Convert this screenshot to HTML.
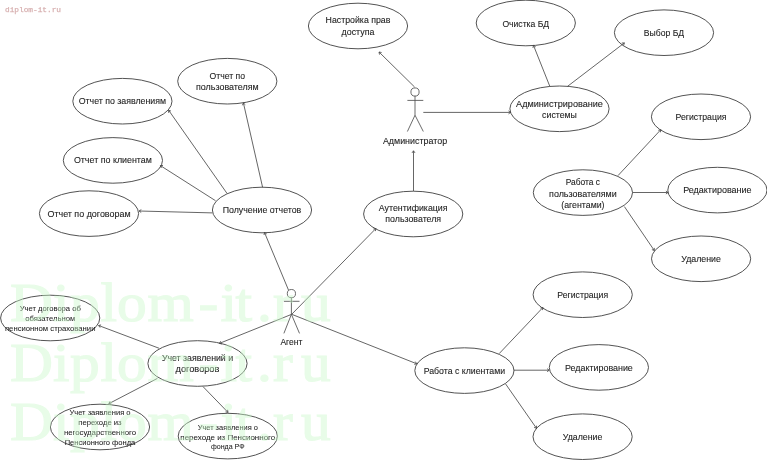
<!DOCTYPE html>
<html><head><meta charset="utf-8"><style>
html,body{margin:0;padding:0;background:#fff;width:767px;height:460px;overflow:hidden}
svg{display:block;will-change:transform}
.t{font-family:"Liberation Sans",sans-serif;fill:#222;stroke:#222;stroke-width:0.1px}
.s{stroke-width:0.06px}
.w{font-family:"Liberation Serif",serif;fill:#c9f8c9;stroke:#c9f8c9;stroke-width:1.2px;opacity:0.42}
.m{font-family:"Liberation Mono",monospace;fill:#d2a8a8;stroke:#dcb8b8;stroke-width:0.25px}
</style></head><body>
<svg width="767" height="460" viewBox="0 0 767 460">

<text class="m" x="5" y="11.7" font-size="7.8" textLength="56">diplom-it.ru</text>
<g stroke="#4a4a4a" stroke-width="0.85" fill="none">
<line x1="414.6" y1="87" x2="379" y2="52"/>
<polyline points="381.6,52.5 379,52 379.5,54.6"/>
<line x1="423.3" y1="112.4" x2="510.6" y2="112.4"/>
<polyline points="508.5,113.9 510.6,112.4 508.5,110.9"/>
<line x1="549.8" y1="86.3" x2="533.5" y2="45.4"/>
<polyline points="535.7,46.8 533.5,45.4 532.9,47.9"/>
<line x1="567.6" y1="86.3" x2="624.4" y2="42.9"/>
<polyline points="623.6,45.4 624.4,42.9 621.8,43.0"/>
<line x1="413.5" y1="191" x2="413.5" y2="150.8"/>
<polyline points="415.0,152.9 413.5,150.8 412.0,152.9"/>
<line x1="291.7" y1="314.3" x2="375.9" y2="228.5"/>
<polyline points="375.4,231.1 375.9,228.5 373.3,229.0"/>
<line x1="288.6" y1="290.3" x2="264.5" y2="232.5"/>
<polyline points="266.7,233.9 264.5,232.5 264.0,235.0"/>
<line x1="262.6" y1="187.3" x2="243.4" y2="102.9"/>
<polyline points="245.3,104.7 243.4,102.9 242.4,105.3"/>
<line x1="227" y1="193.4" x2="168.6" y2="110.2"/>
<polyline points="171.0,111.1 168.6,110.2 168.6,112.8"/>
<line x1="215.5" y1="200.7" x2="160.4" y2="165.6"/>
<polyline points="163.0,165.5 160.4,165.6 161.4,168.0"/>
<line x1="212.4" y1="212.9" x2="139.1" y2="211"/>
<polyline points="141.3,209.6 139.1,211 141.2,212.5"/>
<line x1="291.7" y1="314.3" x2="219.4" y2="343.4"/>
<polyline points="220.8,341.2 219.4,343.4 221.9,344.0"/>
<line x1="291.7" y1="314.3" x2="416.8" y2="363.8"/>
<polyline points="414.3,364.4 416.8,363.8 415.3,361.6"/>
<line x1="159.2" y1="348.3" x2="98.6" y2="325.5"/>
<polyline points="101.1,324.9 98.6,325.5 100.1,327.6"/>
<line x1="157.4" y1="378.4" x2="108.8" y2="403.7"/>
<polyline points="110.0,401.4 108.8,403.7 111.4,404.0"/>
<line x1="203" y1="386.6" x2="228" y2="412.4"/>
<polyline points="225.5,411.9 228,412.4 227.6,409.8"/>
<line x1="618" y1="175.6" x2="660.8" y2="129.7"/>
<polyline points="660.4,132.3 660.8,129.7 658.3,130.3"/>
<line x1="632.6" y1="192.5" x2="668" y2="192.5"/>
<polyline points="665.9,194.0 668,192.5 665.9,191.0"/>
<line x1="624.4" y1="206.6" x2="654.3" y2="250.5"/>
<polyline points="651.9,249.6 654.3,250.5 654.3,247.9"/>
<line x1="499.1" y1="353.7" x2="542.9" y2="307.5"/>
<polyline points="542.5,310.1 542.9,307.5 540.4,308.0"/>
<line x1="513.7" y1="370.2" x2="549.2" y2="370.2"/>
<polyline points="547.1,371.7 549.2,370.2 547.1,368.7"/>
<line x1="505.5" y1="383.8" x2="536.5" y2="428.3"/>
<polyline points="534.1,427.4 536.5,428.3 536.5,425.7"/>
</g>
<g stroke="#404040" stroke-width="0.9" fill="none">
<ellipse cx="358" cy="26" rx="49.6" ry="22.8"/>
<ellipse cx="525.8" cy="23" rx="49.6" ry="22.8"/>
<ellipse cx="664" cy="32.7" rx="49.6" ry="22.8"/>
<ellipse cx="559.5" cy="108.8" rx="49.6" ry="22.8"/>
<ellipse cx="227.3" cy="81.2" rx="49.6" ry="22.8"/>
<ellipse cx="122.4" cy="101.2" rx="49.6" ry="22.8"/>
<ellipse cx="112.9" cy="160.4" rx="49.6" ry="22.8"/>
<ellipse cx="89" cy="213.6" rx="49.6" ry="22.8"/>
<ellipse cx="262" cy="210" rx="49.6" ry="22.8"/>
<ellipse cx="413.2" cy="214" rx="49.6" ry="22.8"/>
<ellipse cx="197.5" cy="363.5" rx="49.6" ry="22.8"/>
<ellipse cx="50.2" cy="318" rx="49.6" ry="22.8"/>
<ellipse cx="100" cy="427" rx="49.6" ry="22.8"/>
<ellipse cx="227.8" cy="436.1" rx="49.6" ry="22.8"/>
<ellipse cx="701" cy="116.8" rx="49.6" ry="22.8"/>
<ellipse cx="582.9" cy="192.6" rx="49.6" ry="22.8"/>
<ellipse cx="717.4" cy="190.1" rx="49.6" ry="22.8"/>
<ellipse cx="701.1" cy="258.8" rx="49.6" ry="22.8"/>
<ellipse cx="582.7" cy="294.7" rx="49.6" ry="22.8"/>
<ellipse cx="464.4" cy="370.6" rx="49.6" ry="22.8"/>
<ellipse cx="598.9" cy="367.4" rx="49.6" ry="22.8"/>
<ellipse cx="582.6" cy="436.7" rx="49.6" ry="22.8"/>
</g>
<g stroke="#505050" stroke-width="0.85" fill="none">
<circle cx="415" cy="92" r="4.1"/>
<line x1="407.4" y1="100.4" x2="423.3" y2="100.4"/>
<line x1="415" y1="95.9" x2="415" y2="115.2"/>
<polyline points="407.4,131.5 415,115.2 423.3,131.5"/>
</g>
<text class="t" x="415" y="143.5" font-size="9.5" text-anchor="middle" textLength="64.2" lengthAdjust="spacingAndGlyphs">Администратор</text>
<g stroke="#505050" stroke-width="0.85" fill="none">
<circle cx="291.4" cy="293.6" r="4.1"/>
<line x1="283.9" y1="301.3" x2="299.5" y2="301.3"/>
<line x1="291.4" y1="297.5" x2="291.4" y2="314.3"/>
<polyline points="283.9,333.4 291.4,314.3 299.5,333.4"/>
</g>
<text class="t" x="291.4" y="344.9" font-size="9.5" text-anchor="middle" textLength="21.9" lengthAdjust="spacingAndGlyphs">Агент</text>
<text class="t" x="358" y="23.4" font-size="9.5" text-anchor="middle" textLength="64.8" lengthAdjust="spacingAndGlyphs">Настройка прав</text>
<text class="t" x="358" y="35.3" font-size="9.5" text-anchor="middle" textLength="32.9" lengthAdjust="spacingAndGlyphs">доступа</text>
<text class="t" x="525.8" y="26.5" font-size="9.5" text-anchor="middle" textLength="46.8" lengthAdjust="spacingAndGlyphs">Очистка БД</text>
<text class="t" x="664" y="36.2" font-size="9.5" text-anchor="middle" textLength="40.3" lengthAdjust="spacingAndGlyphs">Выбор БД</text>
<text class="t" x="559.5" y="106.8" font-size="9.5" text-anchor="middle" textLength="86.9" lengthAdjust="spacingAndGlyphs">Администрирование</text>
<text class="t" x="559.5" y="118.1" font-size="9.5" text-anchor="middle" textLength="34.8" lengthAdjust="spacingAndGlyphs">системы</text>
<text class="t" x="227.3" y="78.7" font-size="9.5" text-anchor="middle" textLength="35.6" lengthAdjust="spacingAndGlyphs">Отчет по</text>
<text class="t" x="227.3" y="90.1" font-size="9.5" text-anchor="middle" textLength="62.6" lengthAdjust="spacingAndGlyphs">пользователям</text>
<text class="t" x="122.4" y="104.3" font-size="9.5" text-anchor="middle" textLength="87.4" lengthAdjust="spacingAndGlyphs">Отчет по заявлениям</text>
<text class="t" x="112.9" y="163.4" font-size="9.5" text-anchor="middle" textLength="78" lengthAdjust="spacingAndGlyphs">Отчет по клиентам</text>
<text class="t" x="89" y="216.8" font-size="9.5" text-anchor="middle" textLength="83.1" lengthAdjust="spacingAndGlyphs">Отчет по договорам</text>
<text class="t" x="262" y="213.0" font-size="9.5" text-anchor="middle" textLength="78.6" lengthAdjust="spacingAndGlyphs">Получение отчетов</text>
<text class="t" x="413.2" y="211.3" font-size="9.5" text-anchor="middle" textLength="68.7" lengthAdjust="spacingAndGlyphs">Аутентификация</text>
<text class="t" x="413.2" y="222.1" font-size="9.5" text-anchor="middle" textLength="55.8" lengthAdjust="spacingAndGlyphs">пользователя</text>
<text class="t" x="197.5" y="361.4" font-size="9.5" text-anchor="middle" textLength="71.2" lengthAdjust="spacingAndGlyphs">Учет заявлений и</text>
<text class="t" x="197.5" y="372.4" font-size="9.5" text-anchor="middle" textLength="43.8" lengthAdjust="spacingAndGlyphs">договоров</text>
<text class="t s" x="50.2" y="311.3" font-size="7.8" text-anchor="middle" textLength="61.1" lengthAdjust="spacingAndGlyphs">Учет договора об</text>
<text class="t s" x="50.2" y="321.4" font-size="7.8" text-anchor="middle" textLength="50" lengthAdjust="spacingAndGlyphs">обязательном</text>
<text class="t s" x="50.2" y="331.4" font-size="7.8" text-anchor="middle" textLength="90.5" lengthAdjust="spacingAndGlyphs">пенсионном страховании</text>
<text class="t s" x="100" y="415.1" font-size="7.8" text-anchor="middle" textLength="61.1" lengthAdjust="spacingAndGlyphs">Учет заявления о</text>
<text class="t s" x="100" y="424.9" font-size="7.8" text-anchor="middle" textLength="43.3" lengthAdjust="spacingAndGlyphs">переходе из</text>
<text class="t s" x="100" y="434.6" font-size="7.8" text-anchor="middle" textLength="72.1" lengthAdjust="spacingAndGlyphs">негосударственного</text>
<text class="t s" x="100" y="444.6" font-size="7.8" text-anchor="middle" textLength="70.6" lengthAdjust="spacingAndGlyphs">Пенсионного фонда</text>
<text class="t s" x="227.8" y="429.6" font-size="7.8" text-anchor="middle" textLength="60.2" lengthAdjust="spacingAndGlyphs">Учет заявления о</text>
<text class="t s" x="227.8" y="439.6" font-size="7.8" text-anchor="middle" textLength="94.9" lengthAdjust="spacingAndGlyphs">переходе из Пенсионного</text>
<text class="t s" x="227.8" y="449.3" font-size="7.8" text-anchor="middle" textLength="33.6" lengthAdjust="spacingAndGlyphs">фонда РФ</text>
<text class="t" x="701" y="120.0" font-size="9.5" text-anchor="middle" textLength="51.1" lengthAdjust="spacingAndGlyphs">Регистрация</text>
<text class="t" x="582.9" y="184.5" font-size="9.5" text-anchor="middle" textLength="34.3" lengthAdjust="spacingAndGlyphs">Работа с</text>
<text class="t" x="582.9" y="196.5" font-size="9.5" text-anchor="middle" textLength="67.7" lengthAdjust="spacingAndGlyphs">пользователями</text>
<text class="t" x="582.9" y="207.5" font-size="9.5" text-anchor="middle" textLength="43.2" lengthAdjust="spacingAndGlyphs">(агентами)</text>
<text class="t" x="717.4" y="193.0" font-size="9.5" text-anchor="middle" textLength="68.4" lengthAdjust="spacingAndGlyphs">Редактирование</text>
<text class="t" x="701.1" y="262.0" font-size="9.5" text-anchor="middle" textLength="39.6" lengthAdjust="spacingAndGlyphs">Удаление</text>
<text class="t" x="582.7" y="297.8" font-size="9.5" text-anchor="middle" textLength="50.9" lengthAdjust="spacingAndGlyphs">Регистрация</text>
<text class="t" x="464.4" y="373.6" font-size="9.5" text-anchor="middle" textLength="81.5" lengthAdjust="spacingAndGlyphs">Работа с клиентами</text>
<text class="t" x="598.9" y="370.7" font-size="9.5" text-anchor="middle" textLength="67.9" lengthAdjust="spacingAndGlyphs">Редактирование</text>
<text class="t" x="582.6" y="440.0" font-size="9.5" text-anchor="middle" textLength="39.6" lengthAdjust="spacingAndGlyphs">Удаление</text>
<g transform="scale(1.1,1)">
<text class="w" x="9.09 48.18 63.64 91.36 106.36 134.09 180.45 200.45 214.09 233.64 248.18 273.64" y="321.5" font-size="54">Diplom-it.ru</text>
<text class="w" x="9.09 48.18 63.64 91.36 106.36 134.09 180.45 200.45 214.09 233.64 248.18 273.64" y="381.5" font-size="54">Diplom-it.ru</text>
<text class="w" x="9.09 48.18 63.64 91.36 106.36 134.09 180.45 200.45 214.09 233.64 248.18 273.64" y="440.5" font-size="54">Diplom-it.ru</text>
</g>
</svg></body></html>
